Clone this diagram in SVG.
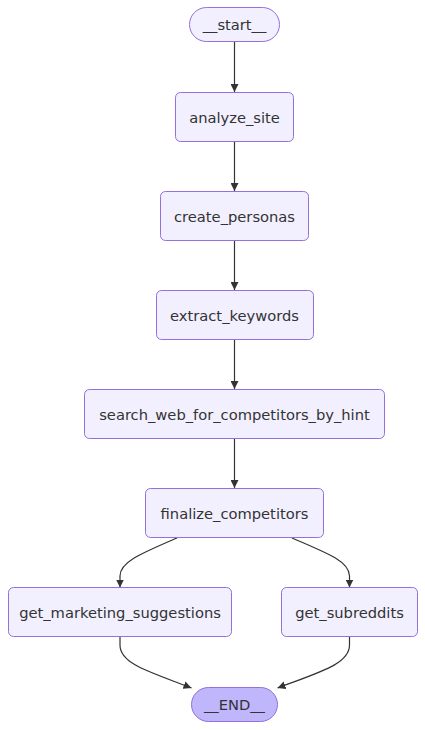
<svg xmlns="http://www.w3.org/2000/svg" width="425" height="730" viewBox="0 0 425 730">
<defs>
<style>
.node rect{fill:#f2f0ff;stroke:#9370db;stroke-width:1}
.node text{font-family:"DejaVu Sans",Verdana,sans-serif;font-size:14.7px;fill:#333;text-anchor:middle;dominant-baseline:central}
.end rect{fill:#bfb6fc}
.edges path{fill:none;stroke:#333;stroke-width:1.2}
</style>
<marker id="arr" viewBox="0 0 10 10" refX="10" refY="5" markerWidth="8" markerHeight="8" orient="auto" markerUnits="userSpaceOnUse">
<path d="M0,0 L10,5 L0,10 z" fill="#333"/>
</marker>
</defs>
<rect width="425" height="730" fill="#fff"/>
<g class="edges">
<path d="M234.5,41 V92" marker-end="url(#arr)"/>
<path d="M234.5,141 V191" marker-end="url(#arr)"/>
<path d="M234.5,240 V290" marker-end="url(#arr)"/>
<path d="M234.5,339 V389" marker-end="url(#arr)"/>
<path d="M234.5,438 V488" marker-end="url(#arr)"/>
<path d="M177,538 C140,554 120,562 120,576 L120,587.5" marker-end="url(#arr)"/>
<path d="M292,538 C330,554 349.5,562 349.5,576 L349.5,587.5" marker-end="url(#arr)"/>
<path d="M120,637 L120,645 C120,664 150,672 191.5,688" marker-end="url(#arr)"/>
<path d="M349.5,637 L349.5,645 C349.5,664 320,672 277.5,688" marker-end="url(#arr)"/>
</g>
<g id="start" class="node"><rect x="189.5" y="7.5" width="90" height="34" rx="17"/><text x="234.5" y="24.5">__start__</text></g>
<g id="analyze_site" class="node"><rect x="175.5" y="92.5" width="118" height="49" rx="5"/><text x="234.5" y="117">analyze_site</text></g>
<g id="create_personas" class="node"><rect x="160.5" y="191.5" width="148" height="49" rx="5"/><text x="234.5" y="216">create_personas</text></g>
<g id="extract_keywords" class="node"><rect x="156.5" y="290.5" width="157" height="49" rx="5"/><text x="234.5" y="315">extract_keywords</text></g>
<g id="search_web_for_competitors_by_hint" class="node"><rect x="84.5" y="389.5" width="300" height="49" rx="5"/><text x="234.5" y="414">search_web_for_competitors_by_hint</text></g>
<g id="finalize_competitors" class="node"><rect x="145.5" y="488.5" width="178" height="49" rx="5"/><text x="234.5" y="513">finalize_competitors</text></g>
<g id="get_marketing_suggestions" class="node"><rect x="8.5" y="587.5" width="223" height="49" rx="5"/><text x="120" y="612">get_marketing_suggestions</text></g>
<g id="get_subreddits" class="node"><rect x="281.5" y="587.5" width="136" height="49" rx="5"/><text x="349.5" y="612">get_subreddits</text></g>
<g id="end" class="node end"><rect x="191.5" y="687.5" width="86" height="34" rx="17"/><text x="234.5" y="704.5">__END__</text></g>
</svg>
